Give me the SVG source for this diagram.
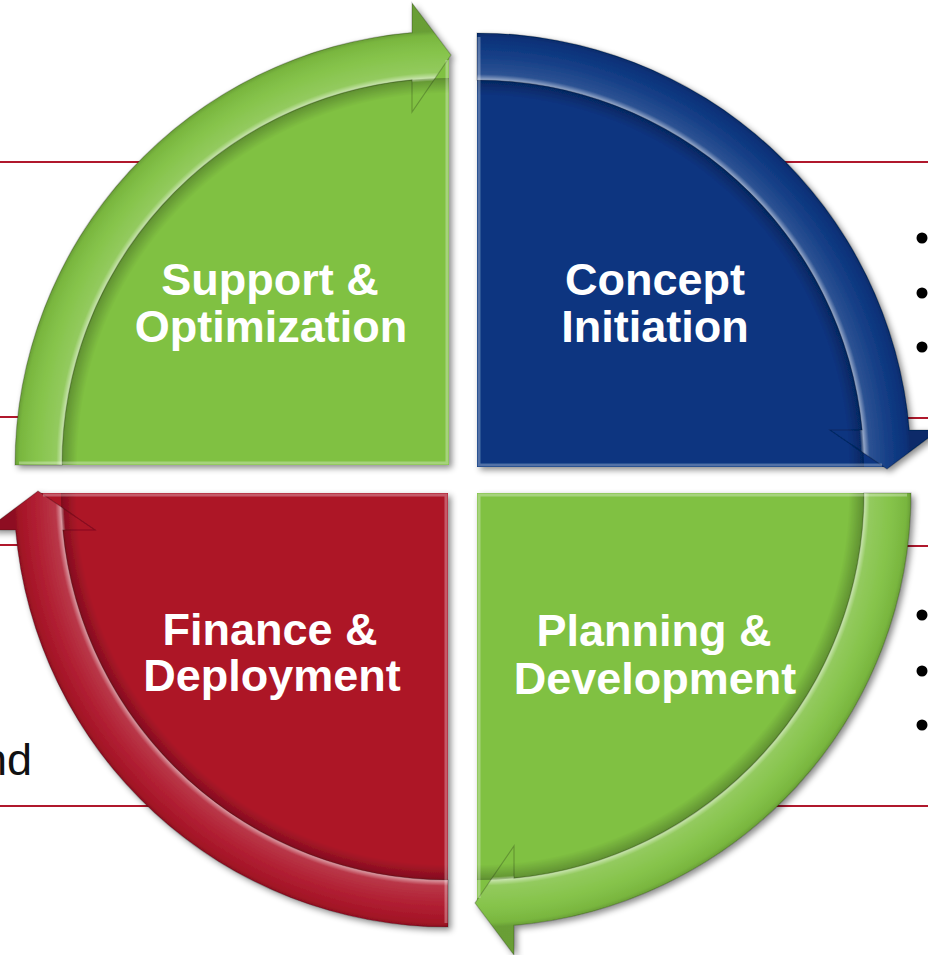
<svg xmlns="http://www.w3.org/2000/svg" xmlns:xlink="http://www.w3.org/1999/xlink" width="928" height="955" viewBox="0 0 928 955">
  <style>
    .rule { stroke: #b0182c; stroke-width: 2; fill: none; }
    .lbl { font-family: "Liberation Sans", Arial, sans-serif; font-weight: bold; font-size: 45px; fill: #ffffff; text-anchor: middle; }
    .body-txt { font-family: "Liberation Sans", Arial, sans-serif; font-size: 45px; fill: #111111; }
    .bul { fill: #000000; }
    .green { fill: #80c142; }
    .blue { fill: #083480; }
    .red { fill: #ad1428; }
    .edge { stroke: #ffffff; stroke-opacity: 0.3; stroke-width: 3; fill: none; }
    .arrow-line { stroke: #000000; stroke-opacity: 0.22; stroke-width: 1.2; }
  </style>
  <defs>
    <filter id="sh" x="-10%" y="-10%" width="125%" height="125%">
      <feDropShadow dx="3" dy="3" stdDeviation="3" flood-color="#000000" flood-opacity="0.45"/>
    </filter>
    <radialGradient id="bandShade" gradientUnits="userSpaceOnUse" cx="0" cy="0" r="434">
      <stop offset="0.885" stop-color="#ffffff" stop-opacity="0"/>
      <stop offset="0.893" stop-color="#ffffff" stop-opacity="0.55"/>
      <stop offset="0.905" stop-color="#ffffff" stop-opacity="0.15"/>
      <stop offset="0.95" stop-color="#ffffff" stop-opacity="0.05"/>
      <stop offset="0.99" stop-color="#000000" stop-opacity="0.06"/>
      <stop offset="1" stop-color="#000000" stop-opacity="0.18"/>
    </radialGradient>
    <radialGradient id="bodyShade" gradientUnits="userSpaceOnUse" cx="0" cy="0" r="387">
      <stop offset="0.96" stop-color="#000000" stop-opacity="0"/>
      <stop offset="0.995" stop-color="#000000" stop-opacity="0.22"/>
      <stop offset="1" stop-color="#000000" stop-opacity="0.3"/>
    </radialGradient>
    <path id="body" d="M0,0 H-434 A434,434 0 0 1 -37,-432.4 V-462 L2,-410 L0,-407 Z"/>
    <path id="inner" d="M0,0 H-387 A387,387 0 0 1 0,-387 Z"/>
    <path id="arrow" d="M-434,0 A434,434 0 0 1 -37,-432.4 V-462 L2,-410 L-37,-353 V-385.2 A387,387 0 0 0 -387,0 Z"/>
    <path id="edges" d="M-430,-2 H-2 V-405"/>
  </defs>

  <g id="rules">
    <line class="rule" x1="0" y1="162" x2="300" y2="162"/>
    <line class="rule" x1="0" y1="417" x2="300" y2="417"/>
    <line class="rule" x1="0" y1="545" x2="300" y2="545"/>
    <line class="rule" x1="0" y1="806" x2="300" y2="806"/>
    <line class="rule" x1="640" y1="162" x2="928" y2="162"/>
    <line class="rule" x1="640" y1="418" x2="928" y2="418"/>
    <line class="rule" x1="640" y1="546" x2="928" y2="546"/>
    <line class="rule" x1="640" y1="806" x2="928" y2="806"/>
  </g>

  <g id="side-text">
    <circle class="bul" cx="922" cy="238" r="5.5"/>
    <circle class="bul" cx="922" cy="293" r="5.5"/>
    <circle class="bul" cx="922" cy="347" r="5.5"/>
    <circle class="bul" cx="922" cy="615" r="5.5"/>
    <circle class="bul" cx="922" cy="671" r="5.5"/>
    <circle class="bul" cx="922" cy="725" r="5.5"/>
    <text class="body-txt" x="32" y="775" text-anchor="end">nd</text>
  </g>

  <g id="support">
    <g filter="url(#sh)">
      <g transform="translate(449,465)">
        <use xlink:href="#body" class="green"/>
        <use xlink:href="#inner" fill="url(#bodyShade)"/>
        <use xlink:href="#arrow" fill="url(#bandShade)" class="arrow-line"/>
        <use xlink:href="#edges" class="edge"/>
      </g>
    </g>
    <text class="lbl" x="270" y="295">Support &amp;</text>
    <text class="lbl" x="271" y="342">Optimization</text>
  </g>

  <g id="concept">
    <g filter="url(#sh)">
      <g transform="translate(477,467) rotate(90)">
        <use xlink:href="#body" class="blue"/>
        <use xlink:href="#inner" fill="url(#bodyShade)"/>
        <use xlink:href="#arrow" fill="url(#bandShade)" class="arrow-line"/>
        <use xlink:href="#edges" class="edge"/>
      </g>
    </g>
    <text class="lbl" x="655" y="295">Concept</text>
    <text class="lbl" x="655" y="342">Initiation</text>
  </g>

  <g id="planning">
    <g filter="url(#sh)">
      <g transform="translate(477,493) rotate(180)">
        <use xlink:href="#body" class="green"/>
        <use xlink:href="#inner" fill="url(#bodyShade)"/>
        <use xlink:href="#arrow" fill="url(#bandShade)" class="arrow-line"/>
        <use xlink:href="#edges" class="edge"/>
      </g>
    </g>
    <text class="lbl" x="654" y="646">Planning &amp;</text>
    <text class="lbl" x="655" y="694">Development</text>
  </g>

  <g id="finance">
    <g filter="url(#sh)">
      <g transform="translate(448,493) rotate(270)">
        <use xlink:href="#body" class="red"/>
        <use xlink:href="#inner" fill="url(#bodyShade)"/>
        <use xlink:href="#arrow" fill="url(#bandShade)" class="arrow-line"/>
        <use xlink:href="#edges" class="edge"/>
      </g>
    </g>
    <text class="lbl" x="270" y="645">Finance &amp;</text>
    <text class="lbl" x="272" y="691">Deployment</text>
  </g>
</svg>
